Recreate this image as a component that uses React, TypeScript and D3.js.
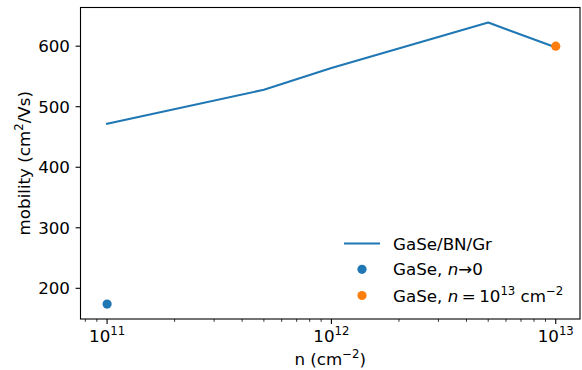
import React from "react";
import * as d3 from "d3";

// Mobility of GaSe/BN/Gr versus carrier density
const densities = [1e11, 5e11, 1e12, 5e12, 1e13];
const mobilities = [472, 528, 564, 639, 598];

// Reference GaSe values
const gaseLowX = [1e11];
const gaseLowY = [174];
const gaseHighX = [1e13];
const gaseHighY = [600];

const yTicks = [200, 300, 400, 500, 600];
const xMajor = [11, 12, 13];

const W = 582;
const H = 370;
const M = { left: 80.5, right: 580, top: 7.5, bottom: 319 };

const BLUE = "#1f77b4";
const ORANGE = "#ff7f0e";
const FONT = "DejaVu Sans, sans-serif";
const FS = 16.7;
const SUP = FS * 0.7;
const RAISE = 7;

export default function App() {
  const x = d3.scaleLog().domain([Math.pow(10, 10.8815), Math.pow(10, 13.1081)]).range([M.left, M.right]);
  const y = d3.scaleLinear().domain([149.3, 663.9]).range([M.bottom, M.top]);

  const line = d3
    .line<number>()
    .x((_, i) => x(densities[i]))
    .y((d) => y(d));

  const minor: number[] = [];
  for (let e = 10; e <= 13; e++) {
    for (let k = 2; k <= 9; k++) {
      const v = k * Math.pow(10, e);
      const px = x(v);
      if (px >= M.left && px <= M.right) minor.push(v);
    }
  }

  const legendX = 344;
  const legendRows = [243.5, 269.3, 295.5];
  const textX = 393;

  return (
    <svg
      width={W}
      height={H}
      style={{ position: "absolute", left: 0, top: 0, background: "#fff" }}
      fontFamily={FONT}
      fontSize={FS}
    >
      <rect x={0} y={0} width={W} height={H} fill="#fff" />

      <path d={line(mobilities) || ""} fill="none" stroke={BLUE} strokeWidth={2.08} strokeLinejoin="round" strokeLinecap="square" />
      {gaseLowX.map((v, i) => (
        <circle key={"l" + i} cx={x(v)} cy={y(gaseLowY[i])} r={4.6} fill={BLUE} />
      ))}
      {gaseHighX.map((v, i) => (
        <circle key={"h" + i} cx={x(v)} cy={y(gaseHighY[i])} r={4.6} fill={ORANGE} />
      ))}

      {/* axes frame */}
      <rect
        x={M.left}
        y={M.top}
        width={M.right - M.left}
        height={M.bottom - M.top}
        fill="none"
        stroke="#000"
        strokeWidth={1.1}
      />

      {/* y ticks */}
      {yTicks.map((t) => (
        <g key={"y" + t}>
          <line x1={M.left - 4.9} x2={M.left} y1={y(t)} y2={y(t)} stroke="#000" strokeWidth={1.1} />
          <text x={M.left - 10.5} y={y(t) + 6} textAnchor="end" fill="#000">
            {t}
          </text>
        </g>
      ))}

      {/* x minor ticks */}
      {minor.map((v) => (
        <line key={"m" + v} x1={x(v)} x2={x(v)} y1={M.bottom} y2={M.bottom + 2.8} stroke="#000" strokeWidth={0.8} />
      ))}

      {/* x major ticks */}
      {xMajor.map((e) => {
        const px = x(Math.pow(10, e));
        return (
          <g key={"x" + e}>
            <line x1={px} x2={px} y1={M.bottom} y2={M.bottom + 4.9} stroke="#000" strokeWidth={1.1} />
            <text x={px} y={341.7} textAnchor="middle" fill="#000">
              <tspan>10</tspan>
              <tspan dy={-RAISE} fontSize={SUP}>
                {e}
              </tspan>
            </text>
          </g>
        );
      })}

      {/* axis labels */}
      <text x={(M.left + M.right) / 2} y={364.5} textAnchor="middle" fill="#000">
        <tspan>n (cm</tspan>
        <tspan dy={-RAISE} fontSize={SUP}>−2</tspan>
        <tspan dy={RAISE}>)</tspan>
      </text>
      <text
        transform={`translate(30,${(M.top + M.bottom) / 2}) rotate(-90)`}
        textAnchor="middle"
        fill="#000"
      >
        <tspan>mobility (cm</tspan>
        <tspan dy={-RAISE} fontSize={SUP}>2</tspan>
        <tspan dy={RAISE}>/Vs)</tspan>
      </text>

      {/* legend */}
      <line x1={legendX} x2={legendX + 36} y1={legendRows[0]} y2={legendRows[0]} stroke={BLUE} strokeWidth={2.08} />
      <text x={textX} y={legendRows[0] + 6} fill="#000">GaSe/BN/Gr</text>

      <circle cx={legendX + 18} cy={legendRows[1]} r={4.6} fill={BLUE} />
      <text x={textX} y={legendRows[1] + 6} fill="#000">
        <tspan>GaSe, </tspan>
        <tspan fontStyle="italic">n</tspan>
        <tspan>→0</tspan>
      </text>

      <circle cx={legendX + 18} cy={legendRows[2]} r={4.6} fill={ORANGE} />
      <text x={textX} y={legendRows[2] + 6} fill="#000">
        <tspan>GaSe, </tspan>
        <tspan fontStyle="italic">n</tspan>
        <tspan dx={3.5}>=</tspan>
        <tspan dx={3.5}>10</tspan>
        <tspan dy={-RAISE} fontSize={SUP}>13</tspan>
        <tspan dy={RAISE}> cm</tspan>
        <tspan dy={-RAISE} fontSize={SUP}>−2</tspan>
      </text>
    </svg>
  );
}
